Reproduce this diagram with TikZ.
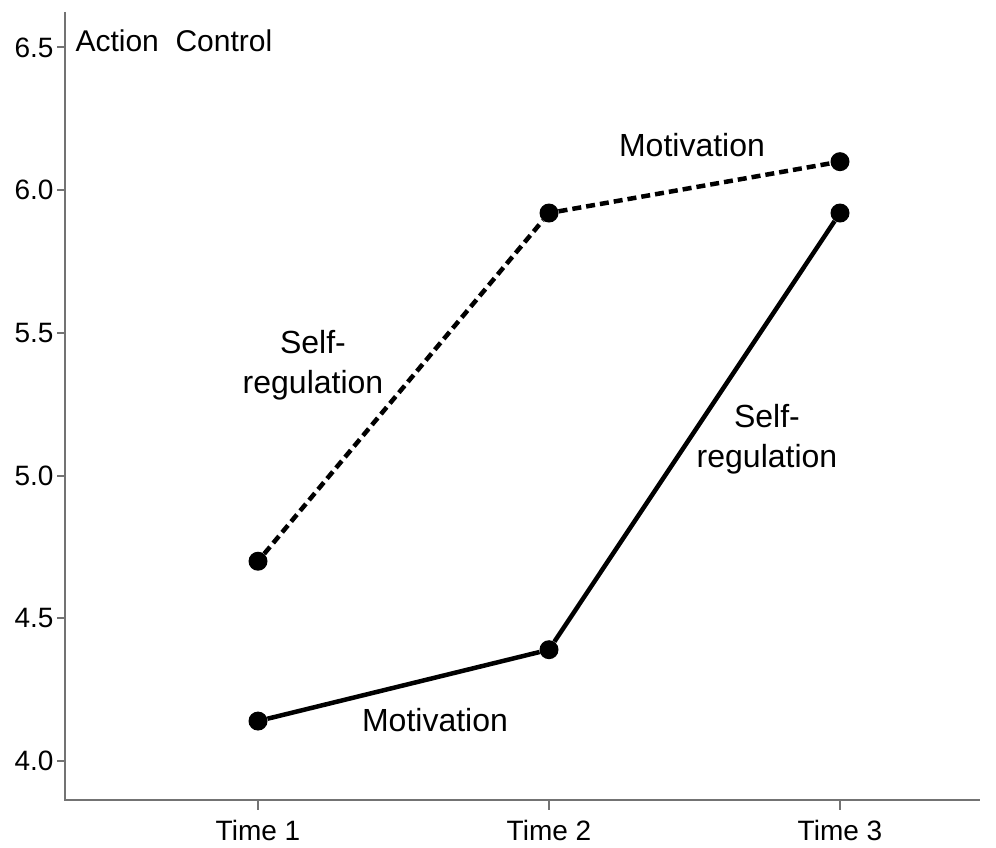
\documentclass[tikz,border=0pt]{standalone}
\usepackage{fontspec}
\setmainfont{Liberation Sans}
\usetikzlibrary{calc}

\begin{document}
\begin{tikzpicture}[x=1pt,y=285.4pt,
                axis/.style={draw=black!55,line width=2pt},
                point/.style={circle,fill=black,inner sep=0pt,minimum size=19pt},
                tick label/.style={font=\fontsize{28}{30}\selectfont},
                effect/.style={font=\fontsize{32}{40}\selectfont,align=center}]
	\useasboundingbox (0,3.6987) rectangle (996,6.6665);

	% axes
	\coordinate (top) at (65,6.6245);
	\coordinate (origin) at (65,3.8633);
	\coordinate (right) at (980,3.8633);
	\draw[axis] (top) -- (origin) -- (right);

	\foreach \v in {4.0,4.5,5.0,5.5,6.0,6.5} {
		\draw[axis] (57,\v) -- (65,\v);
		\node[tick label,anchor=east] (y\v) at (57,\v) {\v};
	}
	\foreach \t/\x in {1/258,2/549,3/840} {
		\draw[axis] (\x,3.8633) -- (\x,3.8283);
		\node[tick label] (t\t) at (\x,3.7582) {Time \t};
	}
	\node[tick label,font=\fontsize{30}{32}\selectfont,anchor=west] (title) at (72,6.5250) {Action\ \ Control};

	% data
	\node[point] (d1) at (258,4.70) {};
	\node[point] (d2) at (549,5.92) {};
	\node[point] (d3) at (840,6.10) {};
	\node[point] (s1) at (258,4.14) {};
	\node[point] (s2) at (549,4.39) {};
	\node[point] (s3) at (840,5.92) {};

	\draw[line width=4.5pt,dash pattern=on 9pt off 5pt] (d1) -- (d2) -- (d3);
	\draw[line width=4.5pt] (s1) -- (s2) -- (s3);

	\node[effect] (dm) at (692,6.1580) {Motivation};
	\node[effect] (ds) at (313,5.3870) {Self-\\regulation};
	\node[effect] (sm) at (435,4.1450) {Motivation};
	\node[effect] (ss) at (767,5.1280) {Self-\\regulation};
\end{tikzpicture}
\end{document}
